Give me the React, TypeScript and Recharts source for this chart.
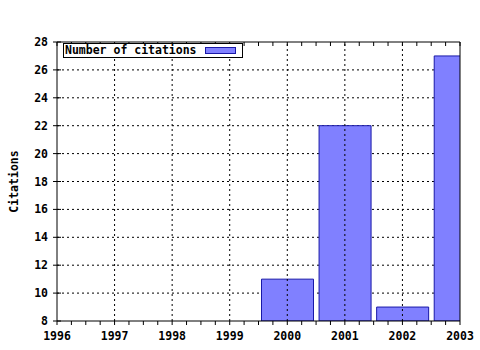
import { Bar, BarChart, CartesianGrid, Legend, ReferenceLine, XAxis, YAxis } from "recharts";

const years = [2000, 2001, 2002, 2003];
const citations = [11, 22, 9, 27];
const yearTicks = [1996, 1997, 1998, 1999, 2000, 2001, 2002, 2003];
const citationTicks = [8, 10, 12, 14, 16, 18, 20, 22, 24, 26, 28];
const innerYears = [1997, 1998, 1999, 2000, 2001, 2002];

const data = years.map((year, i) => ({ year, citations: citations[i] }));
// quarter-year minor ticks between the labelled years
const quarterTicks = yearTicks.flatMap((y, i) =>
  i === yearTicks.length - 1 ? [y] : [y, y + 0.25, y + 0.5, y + 0.75]
);

const FONT = "'DejaVu Sans Mono', 'Liberation Mono', monospace";
const FILL = "#8080ff";
const EDGE = "#1818a8";

function BottomTick(props: any) {
  const { x, y, payload } = props;
  const major = Number.isInteger(payload.value);
  return (
    <g>
      <line x1={x} y1={y} x2={x} y2={y + 4} stroke="#000" />
      {major && (
        <text x={x} y={y + 19} textAnchor="middle" fontFamily={FONT} fontWeight="bold" fontSize={11.5} fill="#000">
          {payload.value}
        </text>
      )}
    </g>
  );
}

function TopTick(props: any) {
  const { x, y } = props;
  return <line x1={x} y1={y} x2={x} y2={y + 4} stroke="#000" />;
}

function LeftTick(props: any) {
  const { x, y, payload } = props;
  return (
    <g>
      <line x1={x - 4} y1={y} x2={x + 4} y2={y} stroke="#000" />
      <text x={x - 9} y={y + 4} textAnchor="end" fontFamily={FONT} fontWeight="bold" fontSize={11.5} fill="#000">
        {payload.value}
      </text>
    </g>
  );
}

function YLabel(props: any) {
  const vb = props.viewBox;
  const cx = 14;
  const cy = vb.y + vb.height / 2;
  return (
    <text
      x={cx}
      y={cy}
      transform={`rotate(-90 ${cx} ${cy})`}
      textAnchor="middle"
      dominantBaseline="central"
      fontFamily={FONT}
      fontWeight="bold"
      fontSize={11.5}
      fill="#000"
    >
      Citations
    </text>
  );
}

function LegendBox() {
  return (
    <div
      style={{
        boxSizing: "border-box",
        width: 180,
        height: 15,
        border: "1px solid #000",
        background: "#fff",
        display: "flex",
        alignItems: "center",
        fontFamily: FONT,
        fontWeight: "bold",
        fontSize: 11.5,
        paddingLeft: 1,
        lineHeight: "13px",
      }}
    >
      <span>Number of citations</span>
      <span
        style={{
          display: "inline-block",
          marginLeft: 8,
          width: 31,
          height: 7,
          boxSizing: "border-box",
          background: FILL,
          border: `1px solid ${EDGE}`,
        }}
      />
    </div>
  );
}

export default function App() {
  return (
    <div style={{ position: "fixed", left: 0, top: 0, width: 480, height: 350, background: "#fff" }}>
      <BarChart width={480} height={350} data={data} margin={{ top: 32, right: 20, bottom: 0, left: 0 }}>
        <CartesianGrid stroke="#000" strokeDasharray="2 3" vertical={false} horizontalValues={citationTicks.slice(1, -1)} />
        {innerYears.map((y) => (
          <ReferenceLine key={y} x={y} stroke="#000" strokeDasharray="2 3" />
        ))}
        <XAxis
          dataKey="year"
          type="number"
          domain={[1996, 2003]}
          ticks={quarterTicks}
          interval={0}
          allowDataOverflow
          height={29}
          tickSize={0}
          tickMargin={0}
          tickLine={false}
          axisLine={{ stroke: "#000" }}
          tick={<BottomTick />}
        />
        <XAxis
          xAxisId="top"
          orientation="top"
          dataKey="year"
          type="number"
          domain={[1996, 2003]}
          ticks={quarterTicks}
          interval={0}
          allowDataOverflow
          height={10}
          tickSize={0}
          tickMargin={0}
          tickLine={false}
          axisLine={{ stroke: "#000" }}
          tick={<TopTick />}
        />
        <YAxis
          type="number"
          domain={[8, 28]}
          ticks={citationTicks}
          interval={0}
          allowDataOverflow
          width={57}
          tickSize={0}
          tickMargin={0}
          tickLine={false}
          axisLine={{ stroke: "#000" }}
          tick={<LeftTick />}
          label={{ content: <YLabel /> }}
        />
        <ReferenceLine x={2003} stroke="#000" />
        <Bar dataKey="citations" barSize={52} fill={FILL} stroke={EDGE} strokeWidth={1} isAnimationActive={false} />
        <Legend
          layout="horizontal"
          verticalAlign="middle"
          align="center"
          content={<LegendBox />}
          wrapperStyle={{ top: 43, left: 63, width: 180 }}
        />
      </BarChart>
    </div>
  );
}
